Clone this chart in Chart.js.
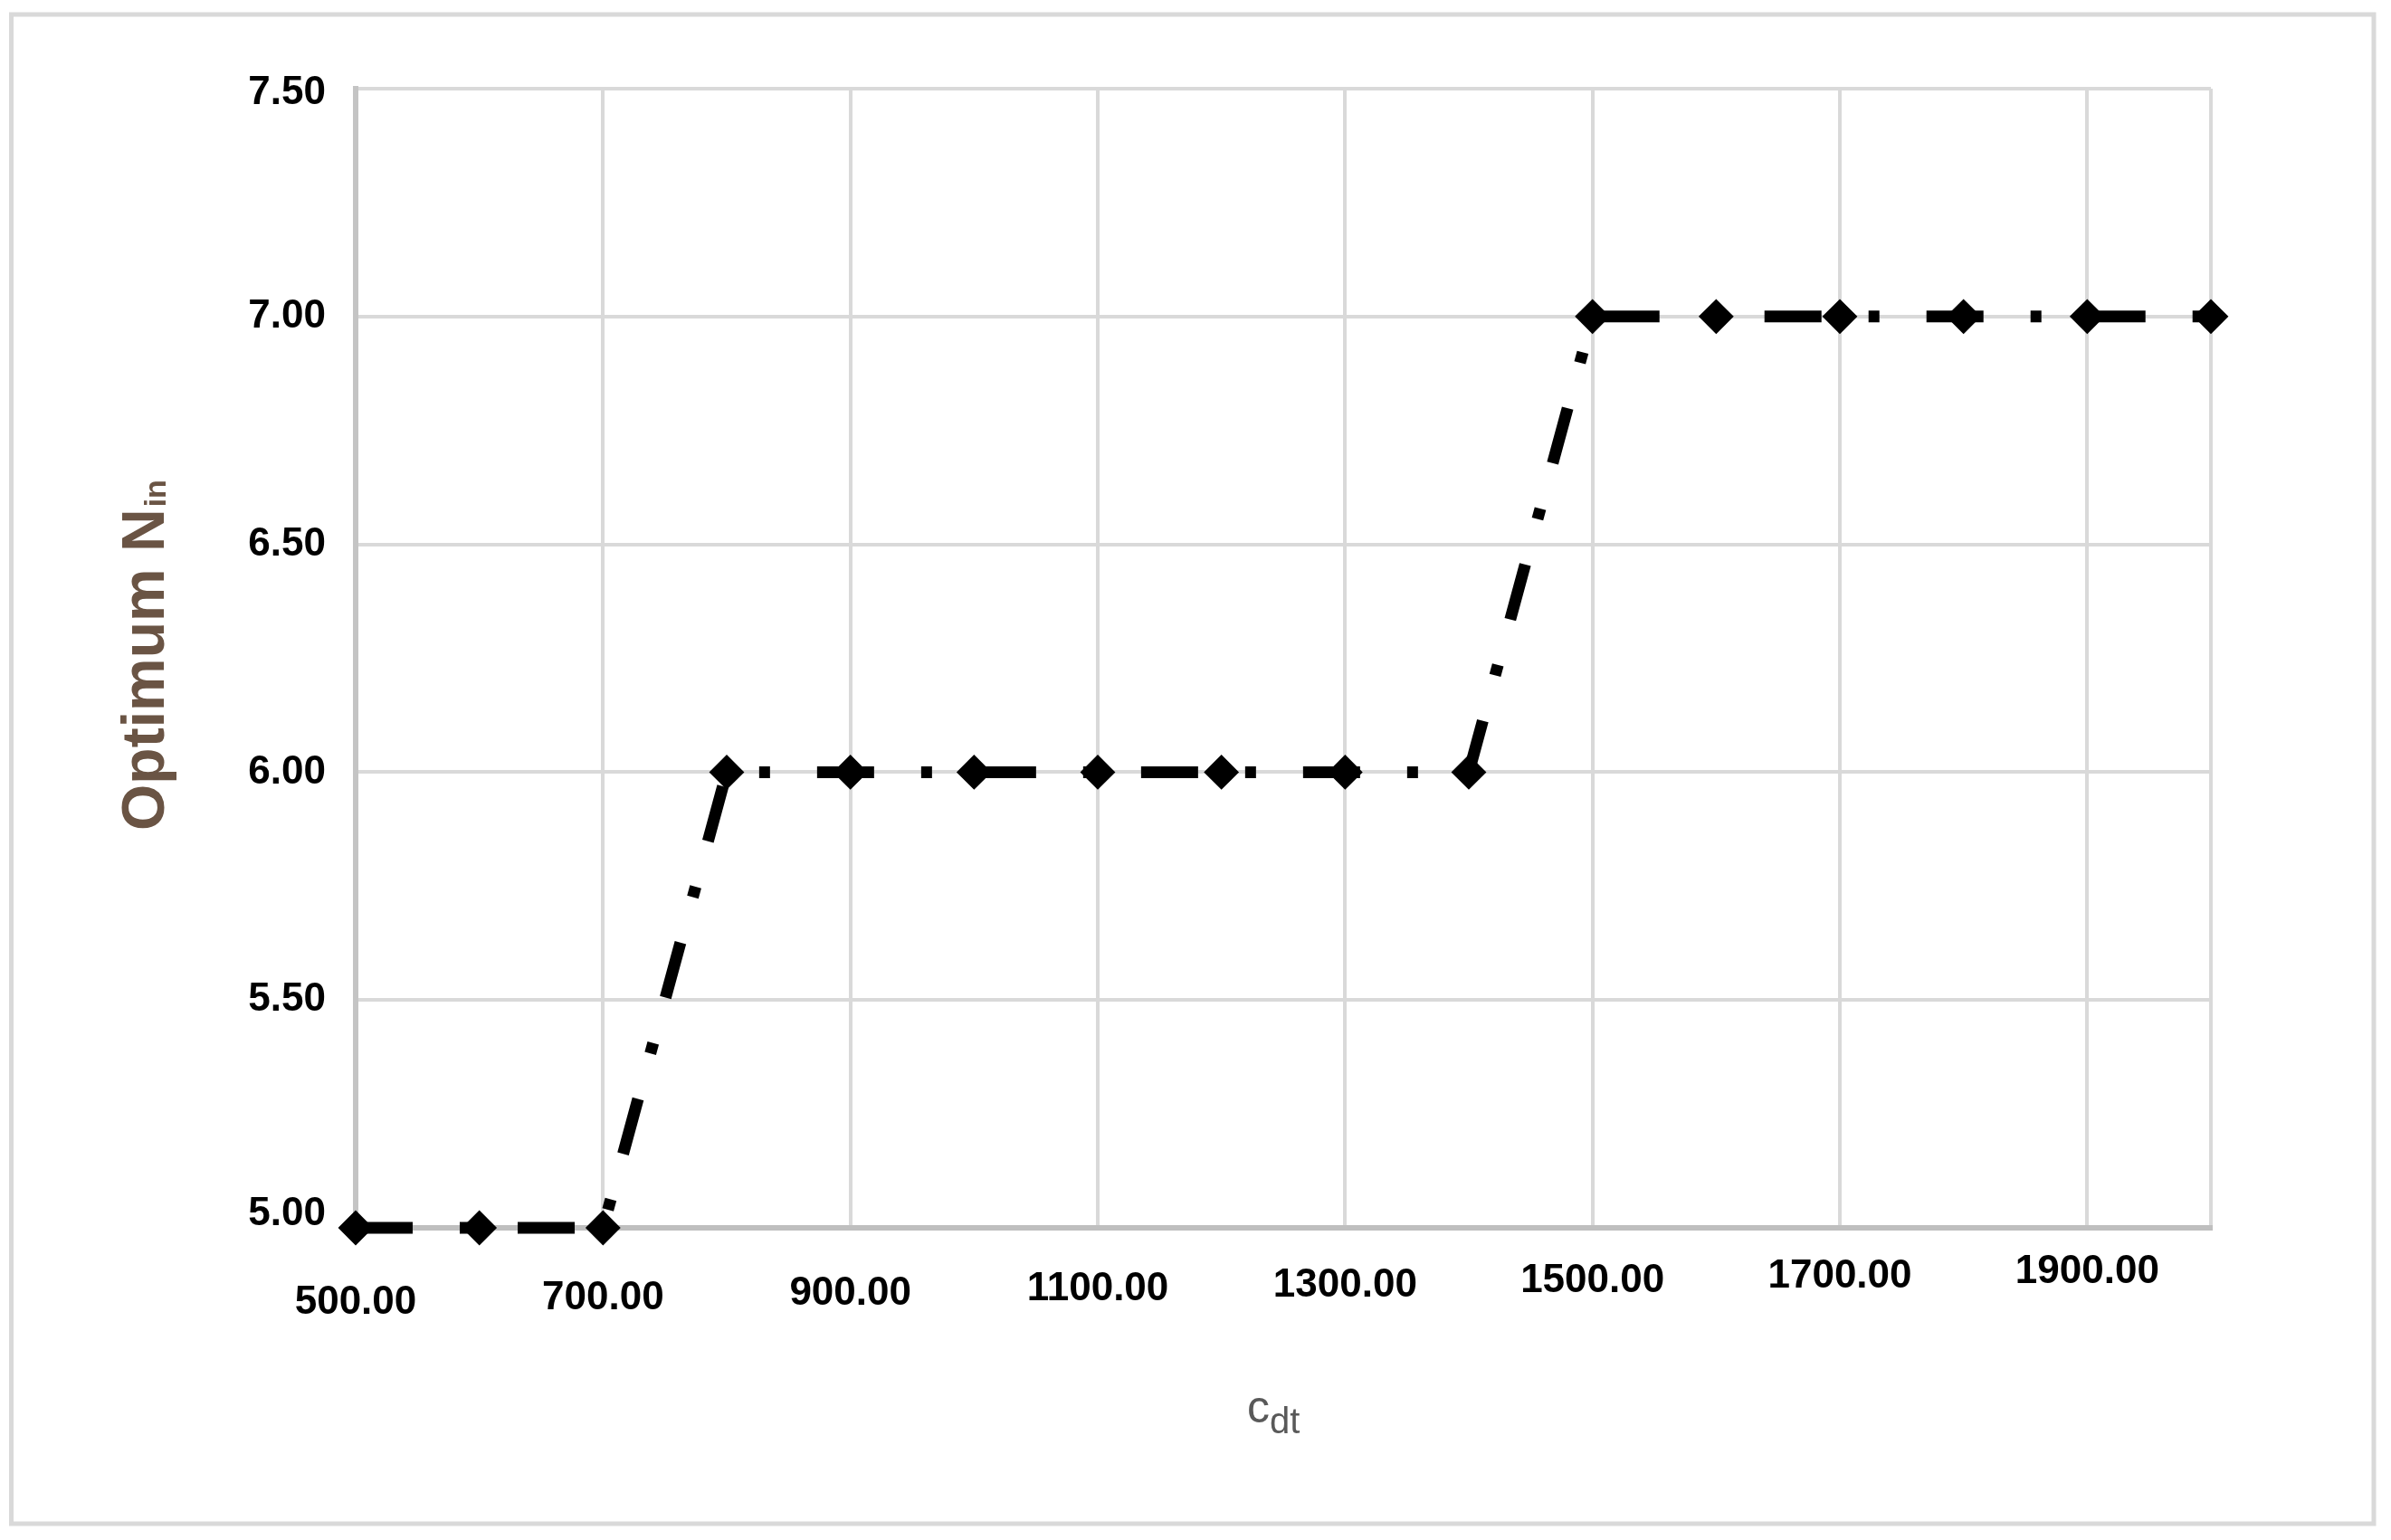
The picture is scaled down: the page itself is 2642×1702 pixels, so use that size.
<!DOCTYPE html>
<html>
<head>
<meta charset="utf-8">
<script src="https://cdn.jsdelivr.net/npm/chart.js@4.4.1/dist/chart.umd.min.js"></script>
<style>
  html, body { margin: 0; padding: 0; background: #ffffff; }
  #wrap { width: 2642px; height: 1702px; }
  canvas { display: block; }
</style>
</head>
<body>
<div id="wrap"><canvas id="c" width="2642" height="1702"></canvas></div>
<script>
// ---- data ----
const xValues = [500, 600, 700, 800, 900, 1000, 1100, 1200, 1300, 1400, 1500, 1600, 1700, 1800, 1900, 2000];
const yValues = [5, 5, 5, 6, 6, 6, 6, 6, 6, 6, 7, 7, 7, 7, 7, 7];
const xTickValues = [500, 700, 900, 1100, 1300, 1500, 1700, 1900, 2000];
const xTickLabels = ['500.00', '700.00', '900.00', '1100.00', '1300.00', '1500.00', '1700.00', '1900.00', ''];
const yTickValues = [5, 5.5, 6, 6.5, 7, 7.5];
const yTickLabels = ['5.00', '5.50', '6.00', '6.50', '7.00', '7.50'];
const yTitle = 'Optimum N';
const yTitleSub = 'in';
const xTitle = 'c';
const xTitleSub = 'dt';

const FONT = '"Liberation Sans", Arial, sans-serif';

const points = xValues.map((x, i) => ({ x: x, y: yValues[i] }));

const frameAndTitles = {
  id: 'frameAndTitles',
  beforeDraw(chart) {
    const ctx = chart.ctx;
    ctx.save();
    ctx.fillStyle = '#ffffff';
    ctx.fillRect(0, 0, chart.width, chart.height);
    ctx.strokeStyle = '#d9d9d9';
    ctx.lineWidth = 5;
    ctx.strokeRect(12.5, 16, 2610.5, 1668);
    ctx.restore();
  },
  afterDraw(chart) {
    const ctx = chart.ctx;
    // y axis title (rotated)
    ctx.save();
    ctx.translate(181, 918);
    ctx.rotate(-Math.PI / 2);
    ctx.fillStyle = '#6a5444';
    ctx.textBaseline = 'alphabetic';
    ctx.textAlign = 'left';
    ctx.font = 'bold 66px ' + FONT;
    ctx.fillText(yTitle, 0, 0);
    const w = ctx.measureText(yTitle).width;
    ctx.font = 'bold 34px ' + FONT;
    ctx.fillText(yTitleSub, w + 2, 2);
    ctx.restore();
    // x axis title
    ctx.save();
    ctx.fillStyle = '#595959';
    ctx.textBaseline = 'alphabetic';
    ctx.textAlign = 'left';
    ctx.font = '50px ' + FONT;
    ctx.fillText(xTitle, 1378, 1572);
    const w2 = ctx.measureText(xTitle).width;
    ctx.font = '40px ' + FONT;
    ctx.fillText(xTitleSub, 1378 + w2, 1584);
    ctx.restore();
  }
};

new Chart(document.getElementById('c'), {
  type: 'line',
  data: {
    datasets: [{
      data: points,
      clip: false,
      borderColor: '#000000',
      borderWidth: 13,
      borderDash: [63, 52, 12, 52],
      borderCapStyle: 'butt',
      tension: 0,
      fill: false,
      pointStyle: 'rectRot',
      pointRadius: 18,
      pointBorderWidth: 2,
      pointBackgroundColor: '#000000',
      pointBorderColor: '#000000'
    }]
  },
  options: {
    responsive: false,
    devicePixelRatio: 1,
    animation: false,
    events: [],
    layout: { padding: { top: 98, right: 199, left: 0, bottom: 0 } },
    plugins: {
      legend: { display: false },
      tooltip: { enabled: false },
      title: { display: false }
    },
    scales: {
      x: {
        type: 'linear',
        min: 500,
        max: 2000,
        afterBuildTicks: (scale) => { scale.ticks = xTickValues.map(v => ({ value: v })); },
        afterFit: (scale) => { scale.height = 345; },
        grid: { color: '#d9d9d9', lineWidth: 4, drawTicks: false },
        border: { color: '#bfbfbf', width: 6 },
        ticks: {
          autoSkip: false,
          maxRotation: 0,
          minRotation: 0,
          padding: 20,
          color: '#000000',
          font: (ctx) => ({
            family: FONT,
            size: 44,
            weight: 'bold',
            lineHeight: (2 * (63 - 4.9 * ctx.index)) + 'px'
          }),
          callback: (v, i) => xTickLabels[i]
        }
      },
      y: {
        type: 'linear',
        min: 5,
        max: 7.5,
        afterBuildTicks: (scale) => { scale.ticks = yTickValues.map(v => ({ value: v })); },
        afterFit: (scale) => { scale.width = 393; },
        grid: { color: '#d9d9d9', lineWidth: 4, drawTicks: false },
        border: { color: '#c4c4c4', width: 6 },
        ticks: {
          padding: 33,
          color: '#000000',
          font: (ctx) => ({
            family: FONT,
            size: 44,
            weight: 'bold',
            lineHeight: ctx.index === 0 ? '30px' : (ctx.index === 5 ? '10px' : 1.2)
          }),
          callback: (v, i) => (i === 0 ? [yTickLabels[i], ''] : (i === 5 ? ['', yTickLabels[i]] : yTickLabels[i]))
        }
      }
    }
  },
  plugins: [frameAndTitles]
});
</script>
</body>
</html>
